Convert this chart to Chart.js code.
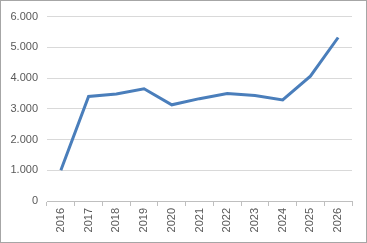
<!DOCTYPE html>
<html>
<head>
<meta charset="utf-8">
<script src="https://cdn.jsdelivr.net/npm/chart.js@4/dist/chart.umd.min.js"></script>
<style>
  html, body { margin: 0; padding: 0; background: #fff; }
  #wrap { position: relative; width: 367px; height: 243px; box-sizing: border-box; border: 1px solid #a6a6a6; }
</style>
</head>
<body>
<div id="wrap"><canvas id="chart"></canvas></div>
<script>
const years = ["2016", "2017", "2018", "2019", "2020", "2021", "2022", "2023", "2024", "2025", "2026"];
const values = [1000, 3400, 3480, 3650, 3130, 3330, 3500, 3430, 3290, 4060, 5320];
const yTicks = [0, 1000, 2000, 3000, 4000, 5000, 6000];

function fmt(v) {
    // Punkt als Tausendertrennzeichen
    return v === 0 ? "0" : String(v).replace(/\B(?=(\d{3})+(?!\d))/g, ".");
}

const labelFont = { family: "'Liberation Sans', Arial, sans-serif", size: 11 };

new Chart(document.getElementById("chart"), {
    type: "line",
    data: {
        labels: years,
        datasets: [{
            data: values,
            borderColor: "#4a7ebb",
            borderWidth: 3,
            pointRadius: 0,
            tension: 0,
            fill: false
        }]
    },
    options: {
        responsive: true,
        maintainAspectRatio: false,
        animation: false,
        layout: { padding: { left: 0, top: 14, right: 14, bottom: 0 } },
        plugins: { legend: { display: false }, tooltip: { enabled: false } },
        scales: {
            x: {
                offset: true,
                grid: { display: true, drawOnChartArea: false, color: "#bfbfbf", tickLength: 5, offset: true },
                border: { display: true, color: "#bfbfbf" },
                ticks: { color: "#595959", font: labelFont, minRotation: 90, maxRotation: 90, padding: 2 },
                afterFit: s => { s.height = 41; }
            },
            y: {
                min: 0,
                max: 6000,
                afterBuildTicks: s => { s.ticks = yTicks.map(v => ({ value: v })); },
                grid: { color: "#d9d9d9", drawTicks: false },
                border: { display: false },
                ticks: { color: "#595959", font: labelFont, padding: 9, callback: v => fmt(v) },
                afterFit: s => { s.width = 46; }
            }
        }
    }
});
</script>
</body>
</html>
